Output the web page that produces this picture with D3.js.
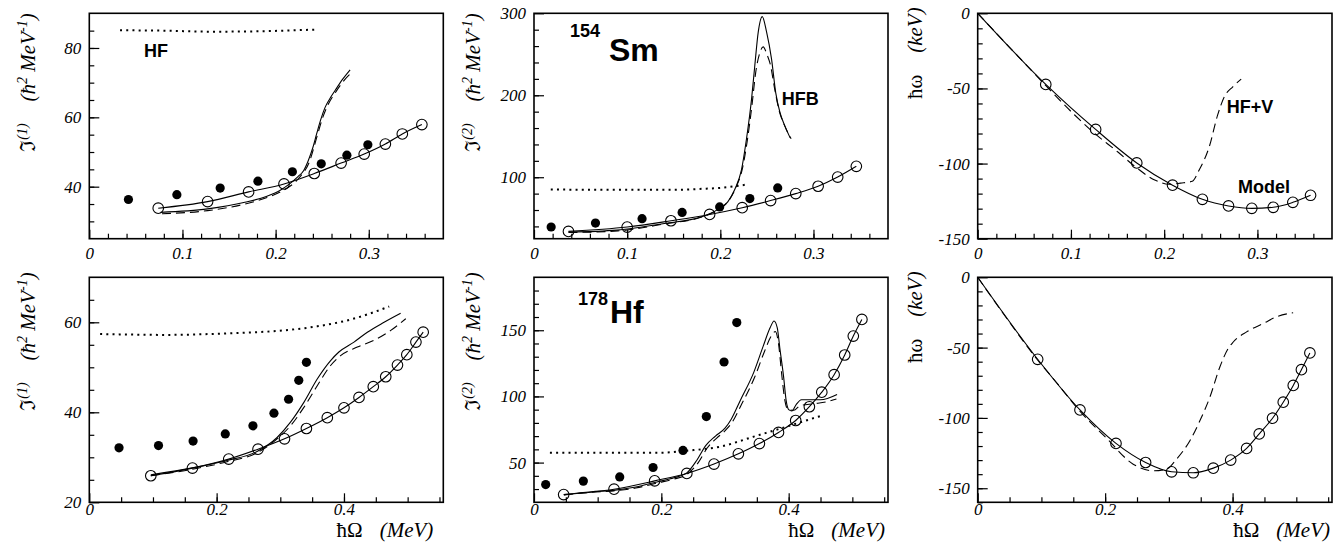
<!DOCTYPE html>
<html>
<head>
<meta charset="utf-8">
<script src="https://cdn.jsdelivr.net/npm/d3@7"></script>
<style>
body { margin: 0; background: #fff; }
svg { display: block; }
.tk text { font-family: "Liberation Serif", "Times New Roman", serif; font-style: italic; font-size: 17px; fill: #000; }
.tk line { stroke: #000; stroke-width: 1.2; }
.tag { font-family: "Liberation Sans", Arial, sans-serif; font-weight: bold; fill: #000; }
.ttl { font-family: "Liberation Serif", "DejaVu Serif", serif; font-size: 21px; fill: #000; }
</style>
</head>
<body>
<svg id="chart" width="1343" height="550"></svg>
<script>
// ---- 154Sm, J(1) ----
var smJ1Exp   = [[0.042,36.3],[0.094,37.7],[0.1405,39.6],[0.181,41.6],[0.218,44.3],[0.249,46.6],[0.2765,49.1],[0.299,52.1]];
var smJ1Model = [[0.074,33.8],[0.127,35.7],[0.171,38.5],[0.209,40.8],[0.2415,43.8],[0.2703,46.8],[0.2951,49.4],[0.3178,52.3],[0.336,55.2],[0.357,57.9]];
var smJ1HF    = [[0.033,85.1],[0.08,85.0],[0.13,84.7],[0.18,84.8],[0.22,85.1],[0.244,85.3]];
var smJ1HFB   = [[0.0765,32.6],[0.127,33.6],[0.167,35.5],[0.19,37.2],[0.205,39.0],[0.215,40.8],[0.224,42.9],[0.23,44.6],[0.235,47.5],[0.24,51.3],[0.244,55.2],[0.248,59],[0.253,62.8],[0.258,65.3],[0.264,67.8],[0.272,71],[0.28,73.7]];
var smJ1HFBV  = [[0.078,32.2],[0.127,33.1],[0.167,35.0],[0.19,36.8],[0.206,38.6],[0.225,42.5],[0.236,47],[0.245,55],[0.25,59.5],[0.256,63.5],[0.265,67.5],[0.274,70.8],[0.282,73]];

// ---- 154Sm, J(2) ----
var smJ2Exp   = [[0.0184,39.3],[0.066,44.1],[0.116,49.4],[0.159,57.1],[0.1993,63.8],[0.2317,73.9],[0.2616,87]];
var smJ2Model = [[0.037,33.9],[0.1,39.2],[0.147,46.9],[0.1885,54.6],[0.2235,62.8],[0.254,71.5],[0.281,80],[0.305,89],[0.326,100.2],[0.346,113.3]];
var smJ2HF    = [[0.018,85],[0.1,84.6],[0.15,84.6],[0.18,85.8],[0.2,87],[0.228,91]];
var smJ2HFB   = [[0.037,33.1],[0.089,35.5],[0.14,43.5],[0.18,51.7],[0.197,60.5],[0.208,70],[0.2155,85],[0.2227,109],[0.228,146],[0.2335,195],[0.237,236],[0.2407,277],[0.245,296],[0.2497,277],[0.255,244],[0.2595,203],[0.264,179],[0.2695,162],[0.275,148]];
var smJ2HFBV  = [[0.037,32.5],[0.09,34.5],[0.14,43],[0.18,51.5],[0.197,60],[0.21,73],[0.217,88],[0.224,112],[0.229,145],[0.234,188],[0.238,228],[0.2425,252],[0.246,259],[0.25,250],[0.254,236],[0.258,210],[0.263,182],[0.269,163],[0.276,147]];

// ---- 154Sm, routhian ----
var smWModel  = [[0.073,-47.3],[0.1265,-77.3],[0.1706,-99.6],[0.209,-114.4],[0.241,-123.8],[0.269,-128.2],[0.294,-129.8],[0.317,-129.1],[0.338,-125.8],[0.357,-121.1]];
var smWHFV    = [[0,0],[0.05,-33],[0.1037,-67.5],[0.1236,-79],[0.1507,-92.5],[0.167,-101.1],[0.1905,-111.1],[0.205,-113.8],[0.2176,-113],[0.2302,-111.8],[0.2374,-104.4],[0.2483,-88.9],[0.2573,-67.8],[0.2645,-55.6],[0.2736,-48.9],[0.2826,-43.8]];

// ---- 178Hf, J(1) ----
var hfJ1Exp   = [[0.0467,32.1],[0.1087,32.6],[0.163,33.6],[0.2136,35.2],[0.257,37.0],[0.29,39.8],[0.313,42.9],[0.329,47.1],[0.341,51.1]];
var hfJ1Model = [[0.0966,25.9],[0.162,27.6],[0.219,29.6],[0.265,31.8],[0.3066,34.1],[0.341,36.4],[0.3738,38.8],[0.4,41.0],[0.4236,43.3],[0.446,45.7],[0.4656,47.9],[0.484,50.5],[0.4987,52.8],[0.513,55.6],[0.5244,57.8]];
var hfJ1HF    = [[0.017,57.4],[0.12,57.2],[0.227,57.6],[0.3055,58.2],[0.358,59.1],[0.41,60.6],[0.471,63.5]];
var hfJ1HFB   = [[0.0966,26.1],[0.1638,27.7],[0.2163,29.3],[0.2635,31.3],[0.295,34.4],[0.316,37.8],[0.337,42.2],[0.358,47.4],[0.379,51.5],[0.392,53.4],[0.4157,55.6],[0.4367,57.8],[0.463,60],[0.489,62.0]];
var hfJ1HFBV  = [[0.0966,25.9],[0.164,27.4],[0.216,29.0],[0.2635,31.0],[0.295,34.1],[0.316,37.0],[0.337,41.1],[0.358,45.9],[0.379,50.4],[0.3947,52.6],[0.421,54.5],[0.447,56],[0.4735,58.2],[0.497,60.8]];

// ---- 178Hf, J(2) ----
var hfJ2Exp   = [[0.0184,33.4],[0.0775,36.0],[0.1346,39.2],[0.187,46.3],[0.234,59.2],[0.2707,84.8],[0.2985,126],[0.3185,155.8]];
var hfJ2Model = [[0.0466,25.8],[0.1257,29.9],[0.1895,36.2],[0.24,41.8],[0.2827,48.9],[0.321,56.6],[0.354,64.4],[0.384,72.8],[0.411,81.8],[0.4325,92.2],[0.452,103.2],[0.4714,116.4],[0.488,131.3],[0.5015,145.6],[0.515,158.2]];
var hfJ2HF    = [[0.025,57.5],[0.1,57.4],[0.2,57.5],[0.24,59],[0.292,62],[0.345,69.6],[0.397,77.2],[0.455,86]];
var hfJ2HFB   = [[0.047,25.8],[0.09,28],[0.125,29],[0.16,31.5],[0.193,35.4],[0.22,38.5],[0.24,42.2],[0.256,52],[0.27,63],[0.285,70],[0.3,76],[0.31,83],[0.324,97],[0.345,118],[0.36,138],[0.371,152],[0.377,157],[0.382,152],[0.3865,135],[0.392,115],[0.396,97],[0.4,90],[0.405,89],[0.412,94],[0.42,97.5],[0.45,97.5],[0.476,101.5]];
var hfJ2HFBV  = [[0.047,25.5],[0.09,27.6],[0.125,28.6],[0.16,30.8],[0.193,34.5],[0.22,37.6],[0.24,41],[0.258,50],[0.272,61],[0.287,68.5],[0.3,74],[0.312,81],[0.326,94],[0.347,115],[0.362,134],[0.373,146],[0.379,149],[0.384,140],[0.389,117],[0.394,97],[0.399,90],[0.408,89.5],[0.418,93],[0.44,94.5],[0.46,96],[0.475,98]];

// ---- 178Hf, routhian ----
var hfWModel  = [[0.0941,-58.3],[0.1605,-94.3],[0.217,-118.1],[0.2635,-131.7],[0.3043,-138.3],[0.3383,-139.0],[0.3697,-135.7],[0.397,-130],[0.422,-121.7],[0.4418,-111.4],[0.4627,-100.2],[0.4795,-88.8],[0.4952,-76.9],[0.508,-65.7],[0.5213,-53.8]];
var hfWHFV    = [[0,0],[0.05,-32],[0.094,-58.8],[0.124,-75],[0.16,-95],[0.2024,-114.5],[0.244,-132.9],[0.2756,-137.6],[0.2965,-136.4],[0.312,-129.3],[0.333,-116.2],[0.3488,-101.9],[0.3644,-85.2],[0.38,-63.8],[0.393,-50.7],[0.401,-46],[0.422,-38.8],[0.448,-32.9],[0.469,-28.1],[0.495,-25.2]];

// tick labels
var topXTicks = [0, 0.1, 0.2, 0.3];
var botXTicks = [0, 0.2, 0.4];

var svg = d3.select("#chart");
var colX = [[89.3, 443.3], [534, 888], [977.7, 1332]];
var rowY = [[13.3, 238.7], [277.3, 502.3]];

var panels = [
  {col:0, row:0, xMax:0.38, yDom:[25,90], yMajor:[40,60,80], yMinor:d3.range(30,90,5),
   exp:smJ1Exp, model:smJ1Model, dot:smJ1HF, solid:smJ1HFB, dash:smJ1HFBV, ytitle:"(1)"},
  {col:1, row:0, xMax:0.38, yDom:[25,300], yMajor:[100,200,300], yMinor:d3.range(40,300,20),
   exp:smJ2Exp, model:smJ2Model, dot:smJ2HF, solid:smJ2HFB, dash:smJ2HFBV, ytitle:"(2)"},
  {col:2, row:0, xMax:0.38, yDom:[-150,0], yMajor:[-150,-100,-50,0], yMinor:d3.range(-140,0,10),
   model:[[0,0]].concat(smWModel), modelPts:smWModel, dash:smWHFV, ytitle:null},
  {col:0, row:1, xMax:0.556, yDom:[20,70], yMajor:[20,40,60], yMinor:d3.range(25,70,5),
   exp:hfJ1Exp, model:hfJ1Model, dot:hfJ1HF, solid:hfJ1HFB, dash:hfJ1HFBV, ytitle:"(1)"},
  {col:1, row:1, xMax:0.556, yDom:[20,190], yMajor:[50,100,150], yMinor:d3.range(30,190,10),
   exp:hfJ2Exp, model:hfJ2Model, dot:hfJ2HF, solid:hfJ2HFB, dash:hfJ2HFBV, ytitle:"(2)"},
  {col:2, row:1, xMax:0.556, yDom:[-160,0], yMajor:[-150,-100,-50,0], yMinor:d3.range(-160,0,10),
   model:[[0,0]].concat(hfWModel), modelPts:hfWModel, dash:hfWHFV, ytitle:null}
];

function fmtX(d) { return d === 0 ? "0" : d3.format(".1f")(d); }

panels.forEach(function(p) {
  var xr = colX[p.col], yr = rowY[p.row];
  var x = d3.scaleLinear().domain([0, p.xMax]).range(xr);
  var y = d3.scaleLinear().domain(p.yDom).range([yr[1], yr[0]]);
  var g = svg.append("g");

  var xMinor = p.row === 0 ? d3.range(0.02, p.xMax, 0.02) : d3.range(0.05, p.xMax, 0.05);
  var xMajor = p.row === 0 ? topXTicks : botXTicks;

  g.append("g").attr("class", "tk").attr("transform", "translate(0," + yr[1] + ")")
    .call(d3.axisBottom(x).tickValues(xMinor).tickSize(-5).tickFormat(""));
  g.append("g").attr("class", "tk").attr("transform", "translate(0," + yr[1] + ")")
    .call(d3.axisBottom(x).tickValues(xMajor).tickSize(-9).tickPadding(p.row === 0 ? 8 : 1).tickFormat(fmtX));
  g.append("g").attr("class", "tk").attr("transform", "translate(" + xr[0] + ",0)")
    .call(d3.axisLeft(y).tickValues(p.yMinor).tickSize(-5).tickFormat(""));
  g.append("g").attr("class", "tk").attr("transform", "translate(" + xr[0] + ",0)")
    .call(d3.axisLeft(y).tickValues(p.yMajor).tickSize(-10).tickPadding(8).tickFormat(function(d){ return String(d); }));
  g.selectAll(".tk .domain").remove();
  g.selectAll(".tk").attr("font-family", null).attr("font-size", null);

  g.append("rect").attr("x", xr[0]).attr("y", yr[0])
    .attr("width", xr[1] - xr[0]).attr("height", yr[1] - yr[0])
    .attr("fill", "none").attr("stroke", "#000").attr("stroke-width", 1.6);

  var line = d3.line().x(function(d){ return x(d[0]); }).y(function(d){ return y(d[1]); })
    .curve(d3.curveMonotoneX);

  if (p.dot) g.append("path").attr("d", line(p.dot)).attr("fill", "none").attr("stroke", "#000")
    .attr("stroke-width", 2).attr("stroke-dasharray", "2 4.2");
  if (p.solid) g.append("path").attr("d", line(p.solid)).attr("fill", "none").attr("stroke", "#000")
    .attr("stroke-width", 1.1);
  if (p.dash) g.append("path").attr("d", line(p.dash)).attr("fill", "none").attr("stroke", "#000")
    .attr("stroke-width", 1.1).attr("stroke-dasharray", "9 5");
  g.append("path").attr("d", line(p.model)).attr("fill", "none").attr("stroke", "#000")
    .attr("stroke-width", 1.1);

  g.selectAll("circle.open").data(p.modelPts || p.model).enter().append("circle")
    .attr("cx", function(d){ return x(d[0]); }).attr("cy", function(d){ return y(d[1]); })
    .attr("r", 5.3).attr("fill", "none").attr("stroke", "#000").attr("stroke-width", 1.1);
  if (p.exp) g.selectAll("circle.full").data(p.exp).enter().append("circle")
    .attr("cx", function(d){ return x(d[0]); }).attr("cy", function(d){ return y(d[1]); })
    .attr("r", 4.6).attr("fill", "#000");

  // y title (rotated)
  var tx = p.col === 2 ? xr[0] - 56 : xr[0] - 54;
  var ty = p.col === 2 ? yr[0] - 6 : yr[0] - (p.row === 0 ? 0 : 5);
  var t = g.append("text").attr("class", "ttl")
    .attr("transform", "translate(" + tx + "," + ty + ") rotate(-90)")
    .attr("text-anchor", "end");
  if (p.ytitle) {
    t.append("tspan").text("\u2111");
    t.append("tspan").attr("font-style", "italic").attr("font-size", 14).attr("dy", -8).text(p.ytitle);
    t.append("tspan").attr("font-style", "italic").attr("dy", 8).attr("dx", 22).text("(\u0127");
    t.append("tspan").attr("font-style", "italic").attr("font-size", 14).attr("dy", -8).text("2");
    t.append("tspan").attr("font-style", "italic").attr("dy", 8).text(" MeV");
    t.append("tspan").attr("font-style", "italic").attr("font-size", 14).attr("dy", -8).text("-1");
    t.append("tspan").attr("font-style", "italic").attr("dy", 8).text(")");
  } else {
    t.append("tspan").text("\u0127\u03c9");
    t.append("tspan").attr("font-style", "italic").attr("dx", 22).text("(keV)");
  }

  // x title on bottom row
  if (p.row === 1) {
    var off = [10, 3, 2][p.col];
    var xt = g.append("text").attr("class", "ttl").attr("x", xr[1] - off).attr("y", 537)
      .attr("font-size", 20).attr("text-anchor", "end");
    xt.append("tspan").text("\u0127\u03a9");
    xt.append("tspan").attr("font-style", "italic").attr("dx", 17).text("(MeV)");
  }
});

// curve / nucleus labels
function tag(txt, px, py, size) {
  svg.append("text").attr("class", "tag").attr("x", px).attr("y", py)
    .attr("font-size", size).text(txt);
}
tag("HF", 144, 56.7, 18);
tag("HFB", 781.7, 105, 18);
tag("HF+V", 1226.7, 113.3, 18);
tag("Model", 1238, 193.3, 18);
tag("154", 570, 37, 18);
tag("Sm", 609, 61, 32);
tag("178", 578, 305, 18);
tag("Hf", 610, 323, 32);
</script>
</body>
</html>
